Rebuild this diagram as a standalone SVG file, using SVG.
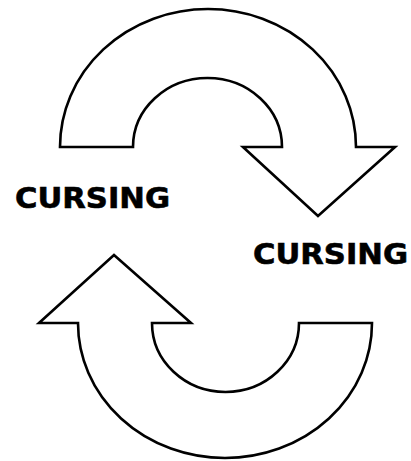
<svg xmlns="http://www.w3.org/2000/svg" width="411" height="461" viewBox="0 0 411 461">
<style>
.arrow{fill:#fff;stroke:#000;stroke-width:2.6;stroke-linejoin:miter}
.lbl{font-family:"DejaVu Sans","Liberation Sans",sans-serif;font-weight:bold;font-size:29px;fill:#000;stroke:#000;stroke-width:0.6}
</style>
<rect width="411" height="461" fill="#fff"/>
<g id="connectors">
<path id="arrow-top" class="arrow" d="M 60 147 A 148 138 0 0 1 356 147 L 395 147 L 318 216 L 243 147 L 282 147 A 74.5 69 0 0 0 133 147 Z"/>
<path id="arrow-bottom" class="arrow" d="M 372 323 A 147 135 0 0 1 78 323 L 39 323 L 114 255 L 191 323 L 152 323 A 73.5 69 0 0 0 299 323 Z"/>
</g>
<g id="node-left"><text class="lbl" x="15" y="208" textLength="155" lengthAdjust="spacingAndGlyphs">CURSING</text></g>
<g id="node-right"><text class="lbl" x="253" y="264" textLength="155" lengthAdjust="spacingAndGlyphs">CURSING</text></g>
</svg>
